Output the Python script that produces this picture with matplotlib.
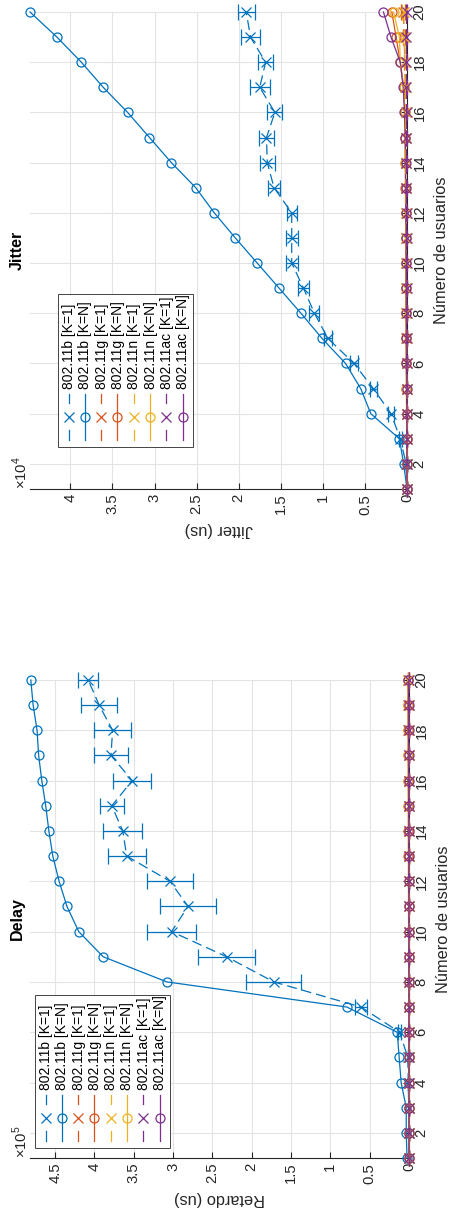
"""Delay and jitter vs number of users, drawn as a rotated (portrait) MATLAB-style figure."""

import matplotlib.pyplot as plt
import matplotlib.transforms as mtransforms
from matplotlib.lines import Line2D
from matplotlib.patches import Rectangle
from matplotlib.ticker import FuncFormatter, MultipleLocator

plt.rcParams["font.family"] = ["Liberation Sans", "DejaVu Sans"]
plt.rcParams["mathtext.fontset"] = "custom"
plt.rcParams["mathtext.rm"] = "Liberation Sans"

users = list(range(1, 21))

labels = ["802.11b [K=1]", "802.11b [K=N]", "802.11g [K=1]", "802.11g [K=N]",
          "802.11n [K=1]", "802.11n [K=N]", "802.11ac [K=1]", "802.11ac [K=N]"]
colors = ["#0072BD", "#D95319", "#EDB120", "#7E2F8E"]

# Delay (us)
delay_b_k1 = [200, 300, 500, 800, 1500, 12000, 61000, 172000, 232000, 302000,
              281000, 304000, 359000, 364000, 378000, 352000, 379000, 377000, 394000, 408000]
delay_b_k1_err = [50, 80, 100, 150, 300, 1500, 8000, 35000, 36000, 31000,
                  36000, 29000, 24000, 25000, 15000, 24000, 22000, 24000, 23000, 13000]
delay_b_kn = [2500, 3500, 3500, 10000, 12500, 15000, 79000, 308000, 389000, 420000,
              435000, 445000, 453000, 458000, 462000, 467000, 471000, 473000, 478000, 481000]
delay_g_k1 = [100, 120, 150, 180, 200, 230, 260, 300, 330, 360,
              400, 430, 470, 500, 540, 580, 620, 660, 700, 750]
delay_g_k1_err = [10, 10, 15, 15, 20, 20, 25, 25, 30, 30,
                  35, 35, 40, 40, 45, 45, 50, 50, 55, 60]
delay_g_kn = [150, 180, 220, 260, 300, 340, 380, 420, 470, 520,
              570, 620, 680, 740, 800, 860, 930, 1000, 1080, 1160]
delay_n_k1 = [80, 100, 120, 140, 160, 180, 200, 230, 260, 290,
              320, 350, 380, 410, 440, 480, 520, 560, 600, 650]
delay_n_k1_err = [10, 10, 10, 15, 15, 15, 20, 20, 20, 25,
                  25, 25, 30, 30, 30, 35, 35, 40, 40, 45]
delay_n_kn = [120, 150, 180, 210, 240, 270, 300, 340, 380, 420,
              460, 500, 550, 600, 650, 700, 760, 820, 880, 950]
delay_ac_k1 = [60, 70, 80, 90, 100, 110, 120, 140, 160, 180,
               200, 220, 240, 260, 280, 300, 320, 350, 380, 410]
delay_ac_k1_err = [5, 5, 5, 10, 10, 10, 10, 15, 15, 15,
                   15, 20, 20, 20, 20, 25, 25, 25, 30, 30]
delay_ac_kn = [90, 110, 130, 150, 170, 190, 210, 240, 270, 300,
               330, 360, 390, 420, 460, 500, 540, 580, 620, 670]

# Jitter (us)
jitter_b_k1 = [0, 100, 800, 1900, 4000, 6300, 9400, 11000, 12300, 13700,
               13700, 13700, 15800, 16600, 16700, 15700, 17500, 16800, 18600, 19100]
jitter_b_k1_err = [0, 50, 200, 400, 400, 500, 500, 600, 600, 700,
                   700, 600, 700, 900, 900, 900, 1200, 900, 1100, 1000]
jitter_b_kn = [0, 400, 900, 4300, 5500, 7300, 10100, 12600, 15200, 17800,
               20400, 22900, 25100, 28000, 30600, 33200, 36100, 38700, 41600, 44800]
jitter_g_k1 = [0, 10, 20, 30, 40, 50, 60, 70, 80, 90,
               100, 110, 120, 130, 140, 160, 200, 250, 350, 450]
jitter_g_k1_err = [0, 5, 5, 10, 10, 10, 15, 15, 15, 20,
                   20, 20, 25, 25, 30, 40, 60, 80, 150, 250]
jitter_g_kn = [0, 20, 30, 50, 60, 80, 90, 100, 120, 130,
               150, 160, 180, 200, 230, 250, 400, 800, 1300, 1800]
jitter_n_k1 = [0, 10, 20, 25, 30, 40, 50, 60, 70, 80,
               90, 100, 110, 120, 130, 150, 180, 220, 300, 400]
jitter_n_k1_err = [0, 5, 5, 10, 10, 10, 15, 15, 15, 20,
                   20, 20, 25, 25, 30, 40, 60, 80, 150, 250]
jitter_n_kn = [0, 20, 30, 40, 60, 70, 90, 100, 110, 130,
               140, 160, 170, 190, 220, 240, 400, 800, 900, 1600]
jitter_ac_k1 = [0, 5, 10, 15, 20, 25, 30, 35, 40, 45,
                50, 55, 60, 65, 70, 50, 60, 80, 60, 50]
jitter_ac_k1_err = [0, 5, 5, 5, 10, 10, 10, 10, 15, 15,
                    15, 15, 20, 20, 20, 20, 25, 25, 30, 30]
jitter_ac_kn = [0, 20, 30, 40, 50, 60, 70, 80, 100, 110,
                120, 140, 150, 170, 190, 300, 450, 800, 1900, 2800]

delay_series = [
    (delay_b_k1, delay_b_k1_err, delay_b_kn),
    (delay_g_k1, delay_g_k1_err, delay_g_kn),
    (delay_n_k1, delay_n_k1_err, delay_n_kn),
    (delay_ac_k1, delay_ac_k1_err, delay_ac_kn),
]
jitter_series = [
    (jitter_b_k1, jitter_b_k1_err, jitter_b_kn),
    (jitter_g_k1, jitter_g_k1_err, jitter_g_kn),
    (jitter_n_k1, jitter_n_k1_err, jitter_n_kn),
    (jitter_ac_k1, jitter_ac_k1_err, jitter_ac_kn),
]

AX_COLOR = "#262626"
TICK_FS = 10.7
LABEL_FS = 11.8


def draw_legend(ax, x0, y0):
    """Legend drawn by hand with vertical entries; x0, y0 are pixels from the axes origin."""
    trans = mtransforms.IdentityTransform() + mtransforms.ScaledTranslation(0, 0, ax.transAxes)
    ax.add_artist(Rectangle((x0, y0), 135, 153, transform=trans, fc="white",
                            ec=AX_COLOR, lw=0.6, zorder=10, clip_on=False))
    for i, label in enumerate(labels):
        cx = x0 + 10.5 + i * 16.3
        cy = y0 + 30
        color = colors[i // 2]
        style = dict(color=color, lw=0.9, transform=trans, zorder=11, clip_on=False)
        if i % 2 == 0:
            ax.add_artist(Line2D([cx, cx], [cy + 14, cy + 23], **style))
            ax.add_artist(Line2D([cx, cx], [cy - 23, cy - 13], **style))
            ax.add_artist(Line2D([cx], [cy], marker="x", ms=7, mew=0.9, **style))
        else:
            ax.add_artist(Line2D([cx, cx], [cy - 23, cy + 23], **style))
            ax.add_artist(Line2D([cx], [cy], marker="o", ms=6.5, mew=0.9, mfc="none", **style))
        ax.text(cx + 0.5, y0 + 58, label, rotation=90, ha="center", va="bottom",
                fontsize=10, color="black", transform=trans, zorder=12)


def draw_panel(ax, series, vmax, scale, exponent, xlabel, title, legend_xy):
    for (k1, k1_err, kn), color in zip(series, colors):
        cont = ax.errorbar(k1, users, xerr=k1_err, color=color, ls=(0, (8, 4)), lw=0.9,
                           marker="x", ms=7, mew=0.9, capsize=5.5, elinewidth=0.9,
                           capthick=0.9)
        for artist in cont.get_children():
            artist.set_clip_on(False)
        ax.plot(kn, users, color=color, ls="-", lw=0.9, marker="o", ms=6.5,
                mfc="none", mew=0.9, clip_on=False)

    ax.set_xlim(vmax, 0)
    ax.set_ylim(1, 20)
    ax.xaxis.set_major_locator(MultipleLocator(0.5 * scale))
    ax.xaxis.set_major_formatter(FuncFormatter(lambda v, pos: f"{v / scale:g}"))
    ax.yaxis.set_major_locator(MultipleLocator(2))
    ax.yaxis.tick_right()

    for side in ["top", "left"]:
        ax.spines[side].set_visible(False)
    for side in ["bottom", "right"]:
        ax.spines[side].set_color(AX_COLOR)
        ax.spines[side].set_linewidth(0.8)
        ax.spines[side].set_zorder(0.5)

    ax.tick_params(direction="in", length=4, width=0.8, color=AX_COLOR,
                   labelcolor=AX_COLOR, labelsize=TICK_FS)
    ax.tick_params(axis="x", labelrotation=90, pad=3.5)
    ax.tick_params(axis="y", labelrotation=90, pad=4, left=False, right=True)
    for lab in ax.get_yticklabels():
        lab.set_verticalalignment("center")

    ax.grid(True, color="#e3e3e3", lw=0.8)
    ax.set_axisbelow(True)

    ax.yaxis.set_label_position("right")
    ax.set_ylabel("Número de usuarios", fontsize=LABEL_FS, color=AX_COLOR,
                  rotation=90, ha="center", va="center")
    ax.yaxis.set_label_coords(1.092, 0.5)
    ax.set_xlabel(xlabel, fontsize=LABEL_FS, color=AX_COLOR, rotation=180,
                  ha="center", va="center")
    ax.xaxis.set_label_coords(0.5, -0.084)

    ax.text(-0.034, 0.5, title, transform=ax.transAxes, rotation=90, ha="center",
            va="center", fontsize=11.5, fontweight="bold")
    ax.text(0.0, 0.0, f"×10$^{{{exponent}}}$", transform=ax.transAxes, rotation=90,
            ha="right", va="bottom", fontsize=TICK_FS, color=AX_COLOR)

    draw_legend(ax, *legend_xy)


fig = plt.figure(figsize=(4.53, 12.14), dpi=100)
ax_jitter = fig.add_axes([30 / 453, 1 - 489 / 1214, 377 / 453, 477 / 1214])
ax_delay = fig.add_axes([30 / 453, 1 - 1158 / 1214, 379 / 453, 478 / 1214])

draw_panel(ax_delay, delay_series, 4.82e5, 1e5, 5, "Retardo (us)", "Delay", (5, 10))
draw_panel(ax_jitter, jitter_series, 4.48e4, 1e4, 4, "Jitter (us)", "Jitter", (28, 42))

fig.savefig("out.png", dpi=100)
